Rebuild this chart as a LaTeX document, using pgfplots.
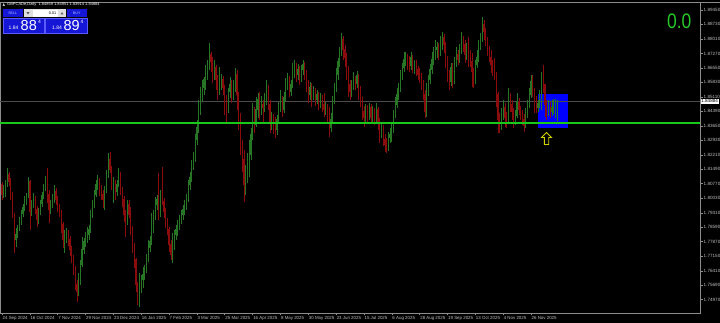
\documentclass[border=0pt]{standalone}
\usepackage{fontspec}
\setmainfont{Liberation Sans}
\usepackage{pgfplots}
\usepackage{pgfplotstable}
\pgfplotsset{compat=1.18}
\definecolor{bullc}{RGB}{38,118,38}
\definecolor{bearc}{RGB}{138,12,12}
\definecolor{panelblue}{RGB}{22,22,215}
\definecolor{panelbord}{RGB}{90,90,255}
\definecolor{limeln}{RGB}{25,200,25}
\definecolor{zerogreen}{RGB}{40,200,40}
\definecolor{axgray}{RGB}{140,140,140}
\definecolor{bidgray}{RGB}{75,75,75}
\definecolor{lblgray}{RGB}{190,190,190}
\definecolor{arrowy}{RGB}{210,210,0}

\pgfplotstableread{
i o h l c
0 1.8070 1.8085 1.7995 1.8020
1 1.8020 1.8070 1.8005 1.8055
2 1.8055 1.8095 1.8010 1.8080
3 1.8080 1.8155 1.8060 1.8120
4 1.8120 1.8135 1.8065 1.8085
5 1.8085 1.8105 1.7995 1.8020
6 1.8020 1.8035 1.7905 1.7920
7 1.7920 1.7930 1.7730 1.7795
8 1.7795 1.7855 1.7760 1.7820
9 1.7820 1.7870 1.7805 1.7855
10 1.7855 1.7910 1.7840 1.7885
11 1.7885 1.7945 1.7870 1.7925
12 1.7925 1.7975 1.7910 1.7955
13 1.7955 1.8015 1.7940 1.7995
14 1.7995 1.8030 1.7970 1.8020
15 1.8020 1.8110 1.8005 1.8085
16 1.8085 1.8095 1.7845 1.7935
17 1.7935 1.7995 1.7915 1.7970
18 1.7970 1.8030 1.7955 1.8005
19 1.8005 1.8015 1.7925 1.7945
20 1.7945 1.7965 1.7860 1.7895
21 1.7895 1.7955 1.7875 1.7935
22 1.7935 1.7995 1.7920 1.7975
23 1.7975 1.8035 1.7960 1.8015
24 1.8015 1.8075 1.8000 1.8055
25 1.8055 1.8115 1.8040 1.8095
26 1.8095 1.8155 1.7980 1.8020
27 1.8020 1.8045 1.7880 1.7945
28 1.7945 1.7995 1.7925 1.7970
29 1.7970 1.8025 1.7955 1.8005
30 1.8005 1.8070 1.7980 1.8035
31 1.8035 1.8055 1.7970 1.7995
32 1.7995 1.8015 1.7935 1.7955
33 1.7955 1.7975 1.7910 1.7925
34 1.7925 1.7945 1.7830 1.7870
35 1.7870 1.7885 1.7755 1.7795
36 1.7795 1.7845 1.7730 1.7820
37 1.7820 1.7855 1.7780 1.7835
38 1.7835 1.7845 1.7765 1.7795
39 1.7795 1.7815 1.7715 1.7745
40 1.7745 1.7765 1.7680 1.7705
41 1.7705 1.7720 1.7620 1.7645
42 1.7645 1.7665 1.7545 1.7570
43 1.7570 1.7595 1.7485 1.7535
44 1.7535 1.7630 1.7515 1.7595
45 1.7595 1.7695 1.7570 1.7670
46 1.7670 1.7810 1.7660 1.7745
47 1.7745 1.7805 1.7725 1.7785
48 1.7785 1.7835 1.7760 1.7805
49 1.7805 1.7860 1.7780 1.7820
50 1.7820 1.7870 1.7795 1.7845
51 1.7845 1.7945 1.7830 1.7920
52 1.7920 1.7995 1.7905 1.7970
53 1.7970 1.8045 1.7955 1.8020
54 1.8020 1.8095 1.8010 1.8070
55 1.8070 1.8120 1.8045 1.8095
56 1.8095 1.8105 1.8015 1.8045
57 1.8045 1.8070 1.7995 1.8020
58 1.8020 1.8045 1.7955 1.7995
59 1.7995 1.8065 1.7945 1.8035
60 1.8035 1.8145 1.8030 1.8120
61 1.8120 1.8230 1.8105 1.8195
62 1.8195 1.8235 1.8130 1.8145
63 1.8145 1.8165 1.8045 1.8070
64 1.8070 1.8110 1.7980 1.8085
65 1.8085 1.8095 1.7995 1.8035
66 1.8035 1.8095 1.8015 1.8070
67 1.8070 1.8155 1.8060 1.8120
68 1.8120 1.8135 1.8020 1.8045
69 1.8045 1.8060 1.7960 1.7995
70 1.7995 1.8015 1.7885 1.7920
71 1.7920 1.7945 1.7810 1.7885
72 1.7885 1.7995 1.7870 1.7970
73 1.7970 1.7995 1.7905 1.7920
74 1.7920 1.7960 1.7820 1.7845
75 1.7845 1.7865 1.7730 1.7770
76 1.7770 1.7780 1.7655 1.7695
77 1.7695 1.7705 1.7535 1.7570
78 1.7570 1.7585 1.7470 1.7505
79 1.7505 1.7630 1.7460 1.7570
80 1.7570 1.7620 1.7530 1.7595
81 1.7595 1.7660 1.7555 1.7620
82 1.7620 1.7670 1.7595 1.7645
83 1.7645 1.7725 1.7630 1.7705
84 1.7705 1.7795 1.7685 1.7755
85 1.7755 1.7815 1.7735 1.7785
86 1.7785 1.7930 1.7770 1.7870
87 1.7870 1.7945 1.7830 1.7920
88 1.7920 1.8010 1.7895 1.7970
89 1.7970 1.8020 1.7945 1.7995
90 1.7995 1.8130 1.7895 1.7945
91 1.7945 1.8045 1.7910 1.8005
92 1.8005 1.8160 1.7970 1.7985
93 1.7985 1.8005 1.7905 1.7935
94 1.7935 1.7955 1.7855 1.7885
95 1.7885 1.7905 1.7820 1.7845
96 1.7845 1.7860 1.7735 1.7770
97 1.7770 1.7795 1.7695 1.7720
98 1.7720 1.7830 1.7680 1.7770
99 1.7770 1.7845 1.7745 1.7820
100 1.7820 1.7870 1.7795 1.7845
101 1.7845 1.7895 1.7815 1.7870
102 1.7870 1.7920 1.7845 1.7895
103 1.7895 1.7945 1.7875 1.7920
104 1.7920 1.7970 1.7895 1.7945
105 1.7945 1.7995 1.7920 1.7970
106 1.7970 1.8025 1.7945 1.8005
107 1.8005 1.8095 1.7985 1.8070
108 1.8070 1.8135 1.8045 1.8105
109 1.8105 1.8195 1.8085 1.8170
110 1.8170 1.8235 1.8145 1.8205
111 1.8205 1.8325 1.8185 1.8295
112 1.8295 1.8395 1.8270 1.8355
113 1.8355 1.8495 1.8330 1.8445
114 1.8445 1.8560 1.8420 1.8520
115 1.8520 1.8595 1.8485 1.8555
116 1.8555 1.8610 1.8520 1.8595
117 1.8595 1.8670 1.8545 1.8635
118 1.8635 1.8695 1.8595 1.8670
119 1.8670 1.8780 1.8645 1.8720
120 1.8720 1.8735 1.8635 1.8685
121 1.8685 1.8710 1.8580 1.8635
122 1.8635 1.8695 1.8595 1.8655
123 1.8655 1.8670 1.8545 1.8595
124 1.8595 1.8620 1.8495 1.8545
125 1.8545 1.8660 1.8520 1.8570
126 1.8570 1.8625 1.8545 1.8595
127 1.8595 1.8615 1.8520 1.8555
128 1.8555 1.8570 1.8420 1.8495
129 1.8495 1.8520 1.8380 1.8445
130 1.8445 1.8555 1.8430 1.8535
131 1.8535 1.8610 1.8505 1.8570
132 1.8570 1.8595 1.8480 1.8520
133 1.8520 1.8595 1.8495 1.8570
134 1.8570 1.8655 1.8535 1.8620
135 1.8620 1.8645 1.8445 1.8520
136 1.8520 1.8535 1.8345 1.8395
137 1.8395 1.8430 1.8220 1.8270
138 1.8270 1.8295 1.8135 1.8195
139 1.8195 1.8245 1.7985 1.8070
140 1.8070 1.8170 1.8020 1.8120
141 1.8120 1.8230 1.8080 1.8170
142 1.8170 1.8295 1.8110 1.8220
143 1.8220 1.8355 1.8195 1.8320
144 1.8320 1.8480 1.8295 1.8405
145 1.8405 1.8460 1.8330 1.8370
146 1.8370 1.8510 1.8360 1.8445
147 1.8445 1.8530 1.8405 1.8495
148 1.8495 1.8535 1.8395 1.8445
149 1.8445 1.8515 1.8420 1.8470
150 1.8470 1.8495 1.8380 1.8455
151 1.8455 1.8530 1.8435 1.8495
152 1.8495 1.8595 1.8470 1.8555
153 1.8555 1.8570 1.8445 1.8470
154 1.8470 1.8495 1.8330 1.8385
155 1.8385 1.8435 1.8345 1.8405
156 1.8405 1.8425 1.8325 1.8370
157 1.8370 1.8410 1.8305 1.8345
158 1.8345 1.8420 1.8320 1.8395
159 1.8395 1.8485 1.8375 1.8455
160 1.8455 1.8545 1.8435 1.8495
161 1.8495 1.8515 1.8410 1.8445
162 1.8445 1.8535 1.8430 1.8505
163 1.8505 1.8605 1.8490 1.8570
164 1.8570 1.8630 1.8545 1.8595
165 1.8595 1.8615 1.8510 1.8535
166 1.8535 1.8595 1.8515 1.8570
167 1.8570 1.8680 1.8555 1.8635
168 1.8635 1.8695 1.8605 1.8655
169 1.8655 1.8680 1.8585 1.8620
170 1.8620 1.8675 1.8595 1.8645
171 1.8645 1.8665 1.8570 1.8605
172 1.8605 1.8670 1.8585 1.8645
173 1.8645 1.8695 1.8620 1.8670
174 1.8670 1.8685 1.8595 1.8620
175 1.8620 1.8645 1.8535 1.8570
176 1.8570 1.8595 1.8480 1.8520
177 1.8520 1.8585 1.8495 1.8555
178 1.8555 1.8580 1.8460 1.8520
179 1.8520 1.8565 1.8495 1.8535
180 1.8535 1.8555 1.8465 1.8495
181 1.8495 1.8545 1.8475 1.8520
182 1.8520 1.8535 1.8445 1.8470
183 1.8470 1.8530 1.8455 1.8505
184 1.8505 1.8520 1.8435 1.8470
185 1.8470 1.8530 1.8410 1.8445
186 1.8445 1.8485 1.8420 1.8455
187 1.8455 1.8475 1.8375 1.8405
188 1.8405 1.8460 1.8310 1.8355
189 1.8355 1.8430 1.8335 1.8395
190 1.8395 1.8515 1.8380 1.8495
191 1.8495 1.8580 1.8475 1.8555
192 1.8555 1.8655 1.8535 1.8620
193 1.8620 1.8705 1.8595 1.8685
194 1.8685 1.8760 1.8660 1.8735
195 1.8735 1.8830 1.8715 1.8795
196 1.8795 1.8815 1.8695 1.8745
197 1.8745 1.8770 1.8660 1.8705
198 1.8705 1.8730 1.8595 1.8645
199 1.8645 1.8665 1.8510 1.8570
200 1.8570 1.8595 1.8495 1.8535
201 1.8535 1.8595 1.8510 1.8570
202 1.8570 1.8635 1.8545 1.8595
203 1.8595 1.8615 1.8545 1.8575
204 1.8575 1.8640 1.8555 1.8615
205 1.8615 1.8625 1.8495 1.8545
206 1.8545 1.8565 1.8460 1.8495
207 1.8495 1.8510 1.8395 1.8435
208 1.8435 1.8465 1.8360 1.8405
209 1.8405 1.8475 1.8385 1.8445
210 1.8445 1.8470 1.8385 1.8420
211 1.8420 1.8480 1.8395 1.8455
212 1.8455 1.8475 1.8375 1.8405
213 1.8405 1.8465 1.8385 1.8435
214 1.8435 1.8455 1.8370 1.8405
215 1.8405 1.8480 1.8385 1.8445
216 1.8445 1.8460 1.8345 1.8385
217 1.8385 1.8405 1.8280 1.8335
218 1.8335 1.8385 1.8305 1.8355
219 1.8355 1.8370 1.8265 1.8295
220 1.8295 1.8325 1.8235 1.8270
221 1.8270 1.8305 1.8230 1.8255
222 1.8255 1.8335 1.8240 1.8305
223 1.8305 1.8355 1.8280 1.8320
224 1.8320 1.8380 1.8285 1.8345
225 1.8345 1.8445 1.8330 1.8420
226 1.8420 1.8510 1.8405 1.8470
227 1.8470 1.8555 1.8455 1.8520
228 1.8520 1.8580 1.8495 1.8555
229 1.8555 1.8645 1.8535 1.8620
230 1.8620 1.8680 1.8595 1.8655
231 1.8655 1.8735 1.8635 1.8695
232 1.8695 1.8735 1.8665 1.8705
233 1.8705 1.8725 1.8645 1.8685
234 1.8685 1.8715 1.8635 1.8665
235 1.8665 1.8735 1.8645 1.8705
236 1.8705 1.8720 1.8630 1.8655
237 1.8655 1.8695 1.8625 1.8665
238 1.8665 1.8695 1.8615 1.8645
239 1.8645 1.8665 1.8595 1.8620
240 1.8620 1.8655 1.8580 1.8605
241 1.8605 1.8630 1.8545 1.8570
242 1.8570 1.8595 1.8495 1.8520
243 1.8520 1.8545 1.8405 1.8435
244 1.8435 1.8580 1.8410 1.8535
245 1.8535 1.8620 1.8515 1.8595
246 1.8595 1.8675 1.8575 1.8645
247 1.8645 1.8735 1.8625 1.8695
248 1.8695 1.8760 1.8670 1.8720
249 1.8720 1.8795 1.8695 1.8745
250 1.8745 1.8785 1.8705 1.8755
251 1.8755 1.8780 1.8695 1.8735
252 1.8735 1.8815 1.8715 1.8785
253 1.8785 1.8835 1.8745 1.8805
254 1.8805 1.8825 1.8730 1.8770
255 1.8770 1.8785 1.8655 1.8695
256 1.8695 1.8715 1.8585 1.8620
257 1.8620 1.8645 1.8545 1.8585
258 1.8585 1.8680 1.8565 1.8655
259 1.8655 1.8680 1.8555 1.8595
260 1.8595 1.8710 1.8575 1.8685
261 1.8685 1.8760 1.8660 1.8720
262 1.8720 1.8745 1.8670 1.8695
263 1.8695 1.8775 1.8680 1.8745
264 1.8745 1.8835 1.8725 1.8795
265 1.8795 1.8815 1.8735 1.8770
266 1.8770 1.8795 1.8680 1.8720
267 1.8720 1.8780 1.8695 1.8755
268 1.8755 1.8810 1.8660 1.8705
269 1.8705 1.8745 1.8660 1.8685
270 1.8685 1.8730 1.8560 1.8635
271 1.8635 1.8655 1.8555 1.8595
272 1.8595 1.8695 1.8575 1.8670
273 1.8670 1.8745 1.8655 1.8705
274 1.8705 1.8795 1.8685 1.8770
275 1.8770 1.8830 1.8745 1.8805
276 1.8805 1.8910 1.8785 1.8870
277 1.8870 1.8895 1.8795 1.8835
278 1.8835 1.8855 1.8765 1.8795
279 1.8795 1.8810 1.8715 1.8745
280 1.8745 1.8765 1.8685 1.8705
281 1.8705 1.8745 1.8630 1.8670
282 1.8670 1.8695 1.8615 1.8645
283 1.8645 1.8705 1.8595 1.8625
284 1.8625 1.8635 1.8460 1.8520
285 1.8520 1.8535 1.8330 1.8395
286 1.8395 1.8430 1.8330 1.8355
287 1.8355 1.8455 1.8345 1.8420
288 1.8420 1.8495 1.8395 1.8455
289 1.8455 1.8480 1.8360 1.8405
290 1.8405 1.8435 1.8355 1.8385
291 1.8385 1.8555 1.8375 1.8505
292 1.8505 1.8530 1.8435 1.8470
293 1.8470 1.8495 1.8395 1.8435
294 1.8435 1.8455 1.8355 1.8385
295 1.8385 1.8445 1.8370 1.8415
296 1.8415 1.8530 1.8405 1.8485
297 1.8485 1.8505 1.8420 1.8445
298 1.8445 1.8465 1.8395 1.8420
299 1.8420 1.8445 1.8370 1.8395
300 1.8395 1.8425 1.8335 1.8365
301 1.8365 1.8455 1.8355 1.8420
302 1.8420 1.8495 1.8405 1.8470
303 1.8470 1.8555 1.8455 1.8520
304 1.8520 1.8620 1.8505 1.8585
305 1.8585 1.8620 1.8510 1.8545
306 1.8545 1.8555 1.8430 1.8495
307 1.8495 1.8515 1.8430 1.8455
308 1.8455 1.8495 1.8435 1.8475
309 1.8475 1.8545 1.8455 1.8520
310 1.8520 1.8635 1.8445 1.8595
311 1.8595 1.8670 1.8530 1.8570
312 1.8570 1.8575 1.8410 1.8470
313 1.8470 1.8495 1.8395 1.8445
314 1.8445 1.8495 1.8415 1.8470
315 1.8470 1.8485 1.8405 1.8435
316 1.8435 1.8495 1.8415 1.8455
317 1.8455 1.8500 1.8425 1.8475
318 1.8475 1.8500 1.8405 1.8485
319 1.84859 1.84951 1.83914 1.84884
}\candles

\pgfplotsset{
  wick/.style={draw=none, mark=none, forget plot, restrict y to domain=1.70:1.95,
    error bars/y dir=plus, error bars/y explicit, error bars/error mark=none,
    error bars/error bar style={draw=#1, line width=0.55pt}},
  body/.style={draw=none, mark=none, forget plot, restrict y to domain=1.70:1.95,
    error bars/y dir=plus, error bars/y explicit, error bars/error mark=none,
    error bars/error bar style={draw=#1, line width=1.1pt}},
}

\begin{document}
\begin{tikzpicture}
\useasboundingbox (0pt,0pt) rectangle (720pt,323pt);
\fill[black] (0pt,0pt) rectangle (720pt,323pt);
\begin{axis}[
  at={(0pt,10pt)}, anchor=south west,
  scale only axis, width=700pt, height=311pt,
  xmin=-1.15, xmax=401.15, ymin=1.7430, ymax=1.8985,
  axis background/.style={fill=black},
  axis line style={draw=axgray, line width=0.6pt},
  xtick={0,16,...,304},
  xticklabels={24 Sep 2024,16 Oct 2024,7 Nov 2024,29 Nov 2024,23 Dec 2024,16 Jan 2025,7 Feb 2025,3 Mar 2025,25 Mar 2025,16 Apr 2025,8 May 2025,30 May 2025,23 Jun 2025,15 Jul 2025,6 Aug 2025,28 Aug 2025,19 Sep 2025,13 Oct 2025,4 Nov 2025,26 Nov 2025},
  ytick={1.7425,1.7497,1.7569,1.7641,1.7715,1.7787,1.7859,1.7931,1.8003,1.8077,1.8149,1.8221,1.8293,1.8365,1.8439,1.8511,1.8583,1.8655,1.8727,1.8801,1.8873,1.8945},
  yticklabels={1.74250,1.74970,1.75690,1.76410,1.77150,1.77870,1.78590,1.79310,1.80030,1.80770,1.81490,1.82210,1.82930,1.83650,1.84390,1.85110,1.85830,1.86550,1.87270,1.88010,1.88730,1.89450},
  xtick pos=lower, ytick pos=right, yticklabel pos=right,
  tick align=outside, major tick length=2.5pt,
  tick style={draw=axgray, line width=0.5pt},
  x tick label style={font=\fontsize{4.4}{5}\selectfont, text=lblgray, anchor=north west, xshift=-0.5pt, inner sep=1pt},
  y tick label style={font=\fontsize{4.6}{5}\selectfont, text=lblgray, anchor=west, inner sep=1pt},
]
% blue rectangle object
\fill[blue] (axis cs:308,1.8525) rectangle (axis cs:325.3,1.83565);
% bid line
\addplot[forget plot, draw=bidgray, line width=0.7pt] coordinates {(-1.15,1.84884) (401.15,1.84884)};
% candles: wicks (low to high) and bodies; a candle of the other colour is pushed out of the domain and dropped
\addplot[wick=bullc] table[x=i, y expr={\thisrow{l}+10*(\thisrow{c}<\thisrow{o})}, y error expr={\thisrow{h}-\thisrow{l}}]{\candles};
\addplot[wick=bearc] table[x=i, y expr={\thisrow{l}+10*(\thisrow{c}>=\thisrow{o})}, y error expr={\thisrow{h}-\thisrow{l}}]{\candles};
\addplot[body=bullc] table[x=i, y expr={min(\thisrow{o},\thisrow{c})+10*(\thisrow{c}<\thisrow{o})}, y error expr={abs(\thisrow{c}-\thisrow{o})+0.0003}]{\candles};
\addplot[body=bearc] table[x=i, y expr={min(\thisrow{o},\thisrow{c})+10*(\thisrow{c}>=\thisrow{o})}, y error expr={abs(\thisrow{c}-\thisrow{o})+0.0003}]{\candles};
% horizontal green level
\addplot[forget plot, draw=limeln, line width=1.5pt] coordinates {(-1.15,1.8380) (401.15,1.8380)};
% arrow
\draw[arrowy, line width=0.9pt, line join=miter] (axis cs:312.9,1.83325) -- (axis cs:315.8,1.83075) -- (axis cs:314.2,1.83075) -- (axis cs:314.2,1.82725) -- (axis cs:311.7,1.82725) -- (axis cs:311.7,1.83075) -- (axis cs:310.06,1.83075) -- cycle;
\coordinate (bid) at (axis cs:401.15,1.84884);
\end{axis}
% top border
\draw[axgray, line width=0.6pt] (0pt,321pt) -- (720pt,321pt);
% current price label
\node[fill=white, text=black, anchor=west, inner sep=0.6pt, font=\fontsize{4.6}{5}\selectfont] at ([xshift=0.5pt]bid) {1.84884};
% big counter
\node[anchor=base west, text=zerogreen, inner sep=0pt, font=\fontsize{21}{24}\selectfont] at (667pt,294.5pt) {\scalebox{0.83}[1]{0.0}};
% header
\fill[lblgray] (2.5pt,317pt) -- (5pt,317pt) -- (3.75pt,320pt) -- cycle;
\node[anchor=base west, text=white, inner sep=0pt, font=\fontsize{4}{5}\selectfont] at (7pt,317pt) {GBPCADe,Daily\ \ 1.84859 1.84951 1.83914 1.84884};
% trade panel
\fill[panelblue] (3pt,314pt) rectangle (22.5pt,305.5pt);
\node[text={rgb,255:red,170;green,200;blue,255}, font=\fontsize{3.6}{4}\selectfont, inner sep=0pt] at (12.7pt,309.7pt) {SELL};
\fill[gray!25] (23.5pt,314pt) rectangle (66pt,305.5pt);
\fill[white] (32.5pt,313.3pt) rectangle (57.5pt,306.2pt);
\fill[gray!70!black] (26.5pt,310.8pt) -- (29.5pt,310.8pt) -- (28pt,308.6pt) -- cycle;
\fill[gray!70!black] (60.5pt,308.6pt) -- (63.5pt,308.6pt) -- (62pt,310.8pt) -- cycle;
\node[anchor=east, text=black, font=\fontsize{3.8}{4}\selectfont, inner sep=0pt] at (56.5pt,309.7pt) {0.01};
\fill[panelblue] (67pt,314pt) rectangle (86.5pt,305.5pt);
\node[text={rgb,255:red,170;green,200;blue,255}, font=\fontsize{3.6}{4}\selectfont, inner sep=0pt] at (76.7pt,309.7pt) {BUY};
\filldraw[fill=panelblue, draw=panelbord, line width=0.4pt] (3pt,304.5pt) rectangle (44pt,290pt);
\filldraw[fill=panelblue, draw=panelbord, line width=0.4pt] (45.5pt,304.5pt) rectangle (87pt,290pt);
\node[anchor=base west, text=white, inner sep=0pt, font=\fontsize{5}{6}\selectfont] at (8.5pt,293pt) {1.84};
\node[anchor=base west, text=white, inner sep=0pt, font=\fontsize{14.5}{16}\selectfont] at (20.5pt,292.2pt) {88};
\node[anchor=base west, text=white, inner sep=0pt, font=\fontsize{5}{6}\selectfont] at (37.8pt,299pt) {4};
\node[anchor=base west, text=white, inner sep=0pt, font=\fontsize{5}{6}\selectfont] at (52pt,293pt) {1.84};
\node[anchor=base west, text=white, inner sep=0pt, font=\fontsize{14.5}{16}\selectfont] at (63.3pt,292.2pt) {89};
\node[anchor=base west, text=white, inner sep=0pt, font=\fontsize{5}{6}\selectfont] at (80.5pt,299pt) {4};
\end{tikzpicture}
\end{document}
